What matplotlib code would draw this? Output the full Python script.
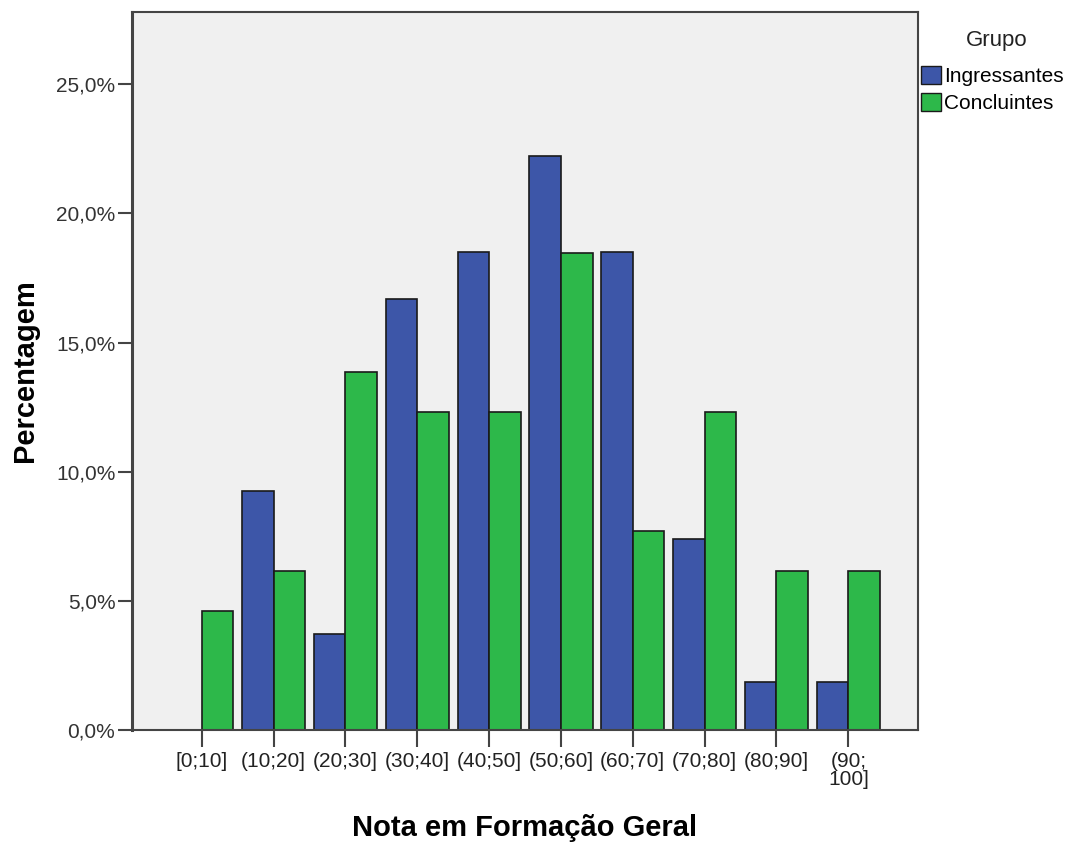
import numpy as np
import matplotlib
matplotlib.use('Agg')
import matplotlib.pyplot as plt
from matplotlib.patches import Patch
from matplotlib.ticker import FuncFormatter

categorias = ['[0;10]', '(10;20]', '(20;30]', '(30;40]', '(40;50]',
              '(50;60]', '(60;70]', '(70;80]', '(80;90]', '(90;\n100]']
ingressantes = [0.0, 9.26, 3.70, 16.67, 18.52, 22.22, 18.52, 7.41, 1.85, 1.85]
concluintes = [4.62, 6.15, 13.85, 12.31, 12.31, 18.46, 7.69, 12.31, 6.15, 6.15]

plt.rcParams['font.family'] = ['Liberation Sans', 'DejaVu Sans']

fig = plt.figure(figsize=(10.77, 8.43), dpi=100)
ax = fig.add_axes([0.1226, 0.134, 0.7298, 0.8518])
ax.set_facecolor('#f0f0f0')

x = np.arange(len(categorias))
w = 0.44
azul, verde = '#3d56a8', '#2db84a'
ax.bar(x - w / 2, ingressantes, w, color=azul, edgecolor='#1a1a1a', linewidth=1.2)
ax.bar(x + w / 2, concluintes, w, color=verde, edgecolor='#1a1a1a', linewidth=1.2)

ax.set_xlim(-0.97, 9.97)
ax.set_ylim(0, 27.8)
ax.set_yticks([0, 5, 10, 15, 20, 25])
ax.yaxis.set_major_formatter(FuncFormatter(lambda v, p: f'{v:.1f}%'.replace('.', ',')))
ax.set_xticks(x)
ax.set_xticklabels(categorias, fontsize=15, linespacing=0.9)

for s in ax.spines.values():
    s.set_color('#444444')
    s.set_linewidth(1.5)
ax.spines['left'].set_linewidth(2.2)
ax.tick_params(axis='y', length=10, width=1.5, color='#444444', labelsize=15,
               labelcolor='#333333', pad=2)
ax.tick_params(axis='x', length=12, width=1.5, color='#444444', pad=4,
               labelcolor='#222222')

ax.set_ylabel('Percentagem', fontsize=21, fontweight='bold', labelpad=12)
ax.set_xlabel('Nota em Formação Geral', fontsize=21, fontweight='bold', labelpad=18)

# legenda fora do gráfico, título separado
fig.text(0.9257, 0.9514, 'Grupo', fontsize=16, color='#222222',
         ha='center', va='center')
handles = [Patch(facecolor=azul, edgecolor='#1a1a1a', label='Ingressantes'),
           Patch(facecolor=verde, edgecolor='#1a1a1a', label='Concluintes')]
fig.legend(handles=handles, loc='upper left',
           bbox_to_anchor=(0.855, 0.922), frameon=False, fontsize=15,
           handlelength=0.95, handleheight=0.95,
           handletextpad=0.15, labelspacing=0.35, borderaxespad=0,
           borderpad=0)

fig.savefig('out.png', dpi=100)
